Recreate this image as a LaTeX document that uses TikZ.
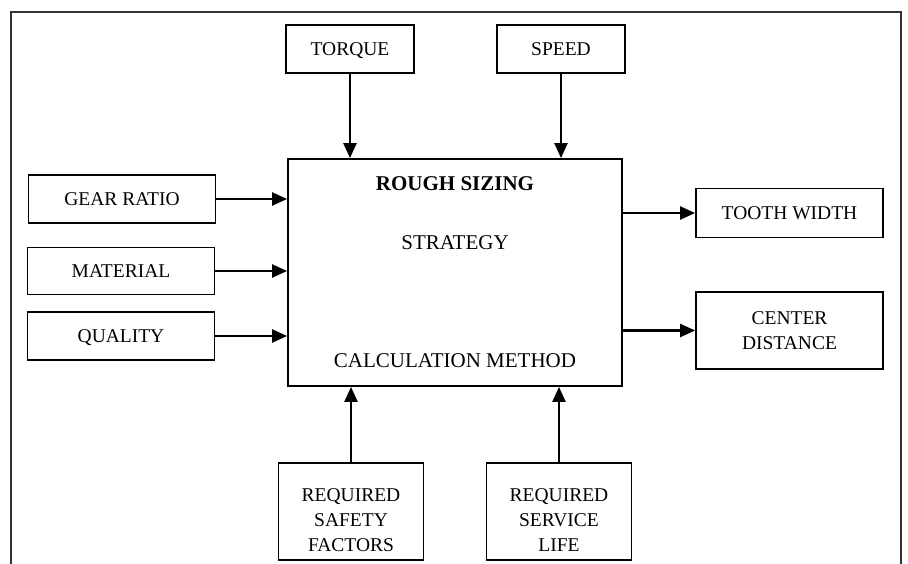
\documentclass[tikz,border=0pt]{standalone}
\usepackage{fontspec}
\setmainfont{Liberation Serif}
\usetikzlibrary{arrows.meta}

\begin{document}
\begin{tikzpicture}[x=1pt, y=-1pt,
		box/.style={draw, line width=1.8pt, align=center, font=\fontsize{19.5}{25}\selectfont, inner sep=0pt},
		oneline/.style={box, text depth=0pt},
		flow/.style={-{Triangle[length=15pt, width=13pt]}, line width=2.4pt}]
				\useasboundingbox (0,0) rectangle (908,564);
				\draw[line width=1.8pt, black!80] (11,564) -- (11,12) -- (901,12) -- (901,564);
				\node[box, minimum width=334pt, minimum height=227pt] (main) at (455,272.5) {};
				\node[font=\fontsize{21}{25}\selectfont\bfseries, text depth=0pt] (rough) at (455,184) {ROUGH SIZING};
				\node[font=\fontsize{21}{25}\selectfont, text depth=0pt] (strategy) at (455,243) {STRATEGY};
				\node[font=\fontsize{21}{25}\selectfont, text depth=0pt] (method) at (455,361) {CALCULATION METHOD};
				\node[oneline, minimum width=128pt, minimum height=48pt] (torque) at (350,49) {TORQUE};
				\node[oneline, minimum width=128pt, minimum height=48pt] (speed) at (561,49) {SPEED};
				\node[oneline, minimum width=187pt, minimum height=48pt] (gear) at (122,199) {GEAR RATIO};
				\node[oneline, minimum width=187pt, minimum height=47pt] (material) at (121,271) {MATERIAL};
				\node[oneline, minimum width=187pt, minimum height=48pt] (quality) at (121,336) {QUALITY};
				\node[oneline, minimum width=187pt, minimum height=49pt] (tooth) at (789.5,213) {TOOTH WIDTH};
				\node[box, minimum width=187pt, minimum height=77pt] (center) at (789.5,330.5) {CENTER\\DISTANCE};
				\node[box, minimum width=145pt, minimum height=97pt] (safety) at (351,511.5) {};
				\node[box, draw=none] (safetytext) at ([yshift=-9pt]safety.center) {REQUIRED\\SAFETY\\FACTORS};
				\node[box, minimum width=145pt, minimum height=97pt] (life) at (559,511.5) {};
				\node[box, draw=none] (lifetext) at ([yshift=-9pt]life.center) {REQUIRED\\SERVICE\\LIFE};
				\draw[flow] (torque) -- (torque |- main.north);
				\draw[flow] (speed) -- (speed |- main.north);
				\draw[flow] (gear) -- (gear -| main.west);
				\draw[flow] (material) -- (material -| main.west);
				\draw[flow] (quality) -- (quality -| main.west);
				\draw[flow] (main.east |- tooth) -- (tooth);
				\draw[flow] (main.east |- center) -- (center);
				\draw[flow] (safety) -- (safety |- main.south);
				\draw[flow] (life) -- (life |- main.south);
			\end{tikzpicture}
\end{document}
